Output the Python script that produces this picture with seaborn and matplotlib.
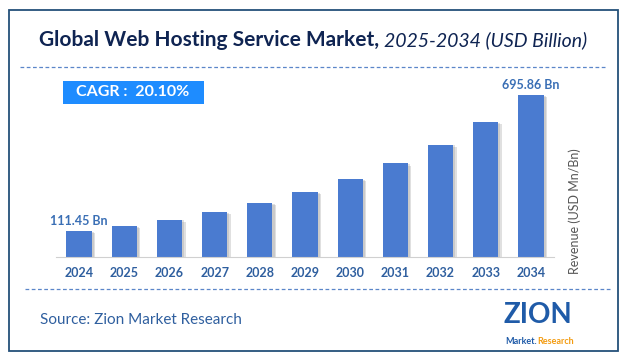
import seaborn as sns
import matplotlib.pyplot as plt
from matplotlib.patches import Rectangle
from matplotlib.lines import Line2D
import matplotlib.patheffects as pe

years = ['2024', '2025', '2026', '2027', '2028', '2029', '2030', '2031', '2032', '2033', '2034']
revenue = [111.45, 133.85, 160.75, 193.06, 231.87, 278.48, 334.46, 401.69, 482.43, 579.40, 695.86]
first_label = '111.45 Bn'
last_label = '695.86 Bn'
cagr_text = 'CAGR :  20.10%'

W, H = 627, 361
plt.rcParams['font.family'] = ['Lato', 'DejaVu Sans']

fig = plt.figure(figsize=(W / 100, H / 100), dpi=100)
fig.patch.set_facecolor('white')


def fx(px):
    return px / W


def fy(py):
    return 1 - py / H


# outer frame
fig.add_artist(Rectangle((fx(9), fy(351)), fx(618) - fx(9), fy(10) - fy(351),
                         transform=fig.transFigure, fill=False,
                         edgecolor='#24507a', linewidth=1.3))

# dashed separators
for y, x0, x1 in [(67, 20, 605), (289, 25, 612)]:
    fig.add_artist(Line2D([fx(x0), fx(x1)], [fy(y), fy(y)], transform=fig.transFigure,
                          color='#5b86c9', linewidth=0.9, dashes=(3, 2)))

# title, bold part + italic part
t1 = fig.text(fx(39), fy(40), 'Global Web Hosting Service Market,', fontsize=15,
              fontweight='bold', color='#0f2452', va='center', ha='left')
fig.canvas.draw()
bb = t1.get_window_extent()
fig.text(bb.x1 / W + fx(5), fy(40), '2025-2034 (USD Billion)', fontsize=14,
         fontstyle='italic', color='#0f2452', va='center', ha='left')

# bars
ax = fig.add_axes([fx(56.5), fy(257), fx(553.5) - fx(56.5), fy(70) - fy(257)])
sns.barplot(x=years, y=revenue, color='#4a7bd0', saturation=1, width=0.56, ax=ax)
for p in ax.patches:
    p.set_path_effects([pe.SimplePatchShadow(offset=(2.5, -1.5), shadow_rgbFace='#999999', alpha=0.3),
                        pe.SimplePatchShadow(offset=(1.5, -0.5), shadow_rgbFace='#999999', alpha=0.3),
                        pe.Normal()])
ax.set_ylim(0, 803)
ax.set_xlim(-0.5, len(years) - 0.5)
ax.set_facecolor('none')
for s in ['top', 'right', 'left']:
    ax.spines[s].set_visible(False)
ax.spines['bottom'].set_color('#d0d0d0')
ax.set_yticks([])
ax.set_xlabel('')
ax.set_ylabel('')
ax.tick_params(axis='x', length=0, pad=7)
for lab in ax.get_xticklabels():
    lab.set_fontweight('bold')
    lab.set_fontsize(9)
    lab.set_color('#2f5f9f')

ax.text(0, revenue[0] + 16, first_label, ha='center', va='bottom', fontsize=9,
        fontweight='bold', color='#3a6fb5')
ax.text(len(years) - 1, revenue[-1] + 16, last_label, ha='center', va='bottom', fontsize=9,
        fontweight='bold', color='#3a6fb5')

# CAGR box
fig.add_artist(Rectangle((fx(63), fy(104)), fx(204) - fx(63), fy(81) - fy(104),
                         transform=fig.transFigure, facecolor='#1e8cff', edgecolor='none'))
fig.text(fx(76), fy(92.5), cagr_text, fontsize=11.5, fontweight='bold', color='white',
         va='center', ha='left')

# axis title on the right
fig.text(fx(575), fy(211), 'Revenue (USD Mn/Bn)', rotation=90, fontsize=9,
         color='#555555', va='center', ha='center')

# source + logo
fig.text(fx(40), fy(320), 'Source: Zion Market Research', fontsize=11, color='#2f5f9f',
         va='center', ha='left')
fig.text(fx(538), fy(315), 'ZION', fontsize=20, fontweight='bold', color='#1f5ba8',
         va='center', ha='center')
fig.text(fx(537), fy(341), 'Market.', fontsize=6.5, fontweight='bold', color='#1f5ba8',
         va='center', ha='right')
fig.text(fx(537), fy(341), 'Research', fontsize=6.5, fontweight='bold', color='#f39c12',
         va='center', ha='left')

fig.savefig('out.png', dpi=100)
